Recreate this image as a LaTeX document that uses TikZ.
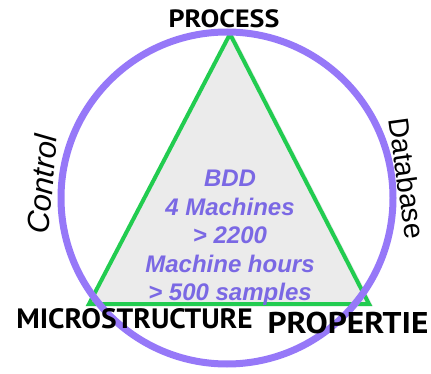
\documentclass[tikz,border=0pt]{standalone}
\usepackage{fontspec}
\setmainfont{Liberation Sans}
\newfontfamily\labfont{PT Sans}
\usetikzlibrary{shadows}
\definecolor{ringcol}{RGB}{150,120,248}
\definecolor{txtcol}{RGB}{122,104,228}
\definecolor{tricol}{RGB}{34,204,80}
\definecolor{trifill}{RGB}{235,235,235}
\tikzset{
  corner/.style={font=\labfont\bfseries, text=black, inner sep=0pt},
  side/.style={font=\itshape, text=black, inner sep=0pt},
  inner/.style={font=\fontsize{24}{28.5}\selectfont\bfseries\itshape, text=txtcol, align=center, inner sep=0pt},
}
\begin{document}
\begin{tikzpicture}[x=1pt,y=-1pt]
\path[use as bounding box] (0,0) rectangle (431,374);
\coordinate (A) at (230,34);
\coordinate (B) at (89,304);
\coordinate (C) at (369,304);
\coordinate (O) at (227,198);
\fill[trifill, drop shadow={opacity=0.18, shadow xshift=4pt, shadow yshift=-2pt}] (A) -- (B) -- (C) -- cycle;
\draw[tricol, line width=4pt, line join=miter] (A) -- (B) -- (C) -- cycle;
\draw[ringcol, line width=7pt] (O) circle[radius=166pt];
\node[inner] (info) at (230,238) {BDD\\4 Machines\\> 2200\\Machine hours\\> 500 samples};
\node[corner, font=\fontsize{25}{25}\selectfont\labfont\bfseries, xscale=1.12] (proc) at (224,19) {PROCESS};
\node[corner, font=\fontsize{28}{28}\selectfont\labfont\bfseries, xscale=1.05] (micro) at (134.5,318.5) {MICROSTRUCTURE};
\node[corner, font=\fontsize{30}{30}\selectfont\labfont\bfseries, xscale=1.11] (prop) at (348,322.5) {PROPERTIE};
\node[side, font=\fontsize{31}{31}\selectfont\itshape, rotate=85] (ctrl) at (42,184) {Control};
\node[side, font=\fontsize{28.5}{28.5}\selectfont, rotate=-82] (db) at (407,178) {Database};
\end{tikzpicture}
\end{document}
